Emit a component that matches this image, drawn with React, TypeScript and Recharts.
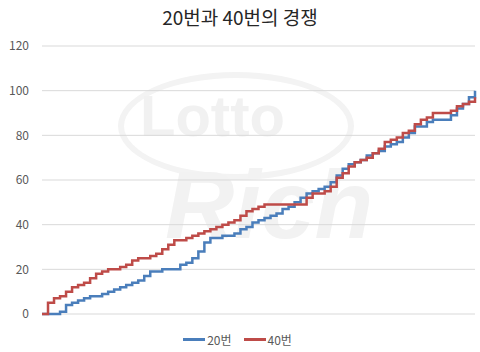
import { CartesianGrid, Legend, Line, LineChart, XAxis, YAxis } from 'recharts';

// cumulative hit count at evenly spaced draws
const no20 = [
  0, 0, 0, 1, 4, 5, 6, 7, 8, 8, 9, 10, 11, 12, 13, 14, 15, 17, 19, 19, 20, 20,
  20, 22, 23, 25, 28, 32, 34, 34, 35, 35, 36, 38, 39, 41, 42, 43, 44, 45, 47,
  48, 50, 52, 54, 55, 56, 57, 59, 62, 65, 67, 68, 69, 71, 72, 73, 75, 76, 77,
  79, 81, 84, 84, 86, 87, 87, 87, 89, 92, 94, 97, 100,
];
const no40 = [
  0, 5, 7, 8, 10, 12, 13, 14, 16, 18, 19, 20, 20, 21, 22, 24, 25, 25, 26, 27,
  29, 31, 33, 33, 34, 35, 36, 37, 38, 39, 40, 41, 42, 44, 46, 47, 48, 49, 49,
  49, 49, 49, 49, 49, 52, 54, 54, 55, 57, 61, 63, 66, 68, 69, 70, 72, 74, 77,
  78, 79, 81, 82, 85, 87, 88, 90, 90, 90, 91, 93, 94, 95, 97,
];
const yTicks = [0, 20, 40, 60, 80, 100, 120];

const data = no20.map((v, i) => ({ idx: i, n20: v, n40: no40[i] }));

const FONT = '"Noto Sans CJK KR", "Noto Sans", sans-serif';

const renderLegend = (props: any) => {
  const { payload } = props;
  return (
    <div style={{ display: 'flex', justifyContent: 'center', gap: 12, paddingTop: 17 }}>
      {payload.map((p: any) => (
        <div key={p.value} style={{ display: 'flex', alignItems: 'center' }}>
          <div style={{ width: 22, height: 3, background: p.color, marginRight: 2 }} />
          <span style={{ fontSize: 12, color: '#595959', fontFamily: FONT }}>{p.value}</span>
        </div>
      ))}
    </div>
  );
};

export default function App() {
  return (
    <div style={{ position: 'absolute', top: 0, left: 0, width: 480, height: 352, background: '#fff', fontFamily: FONT }}>
      {/* faint watermark */}
      <div style={{ position: 'absolute', left: 118, top: 72, width: 224, height: 96, borderRadius: '50%', border: '6px solid #f3f3f3' }} />
      <div style={{ position: 'absolute', left: 140, top: 82, fontSize: 58, fontWeight: 700, color: '#f1f1f1', fontFamily: 'Arial, "Liberation Sans", sans-serif' }}>
        Lotto
      </div>
      <div style={{ position: 'absolute', left: 165, top: 150, fontSize: 96, fontWeight: 700, fontStyle: 'italic', color: '#f2f2f2', fontFamily: 'Arial, "Liberation Sans", sans-serif' }}>
        Rich
      </div>
      <div style={{ position: 'absolute', top: 3, width: 480, textAlign: 'center', fontSize: 19, color: '#262626' }}>
        20번과 40번의 경쟁
      </div>
      <div style={{ position: 'absolute', top: 0, left: 0 }}>
        <LineChart width={480} height={352} data={data} margin={{ top: 46, right: 5, bottom: 0, left: 0 }}>
          <CartesianGrid vertical={false} stroke="#d9d9d9" />
          <XAxis dataKey="idx" hide />
          <YAxis
            width={42}
            domain={[0, 120]}
            ticks={yTicks}
            axisLine={false}
            tickLine={false}
            tickSize={0}
            tickMargin={13}
            tick={{ fontSize: 12, fill: '#595959', fontFamily: FONT }}
          />
          <Legend verticalAlign="bottom" height={38} content={renderLegend} />
          <Line type="stepAfter" dataKey="n20" name="20번" stroke="#4a7ebb" strokeWidth={2.5} dot={false} isAnimationActive={false} />
          <Line type="stepAfter" dataKey="n40" name="40번" stroke="#be4b48" strokeWidth={2.5} dot={false} isAnimationActive={false} />
        </LineChart>
      </div>
    </div>
  );
}
